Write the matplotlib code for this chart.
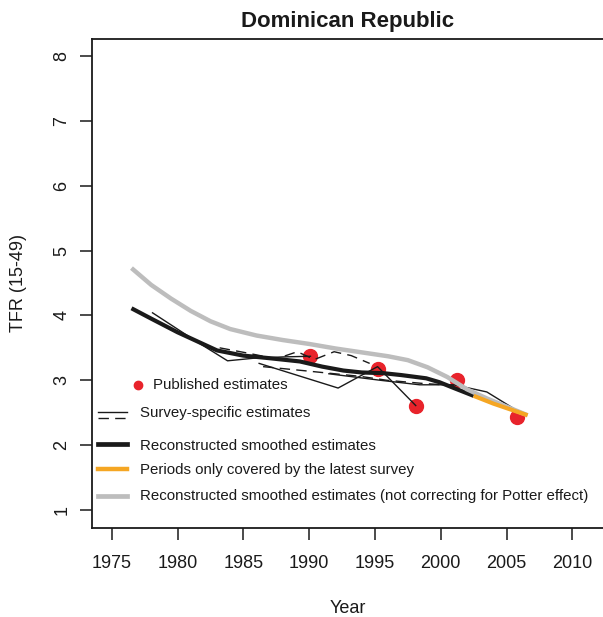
import matplotlib
matplotlib.use("Agg")
import matplotlib.pyplot as plt

plt.rcParams['font.family'] = ['Liberation Sans', 'DejaVu Sans']

# published point estimates
pub_years = [1990.1, 1995.2, 1998.1, 2001.2, 2005.8]
pub_tfr = [3.37, 3.18, 2.61, 3.00, 2.44]

# survey-specific estimates (thin lines), (years, tfr, linestyle)
surveys = [
    ([1978.1, 1981.5, 1983.8, 1985.8, 1988.0, 1990.1],
     [4.04, 3.59, 3.30, 3.34, 3.36, 3.37], '-'),
    ([1983.2, 1985.3, 1987.5, 1989.1, 1990.4, 1991.9, 1993.2, 1994.6],
     [3.50, 3.42, 3.33, 3.44, 3.32, 3.44, 3.38, 3.26], '--'),
    ([1986.2, 1992.2, 1995.2, 1998.1],
     [3.26, 2.88, 3.21, 2.61], '-'),
    ([1986.5, 1989.5, 1993.9, 1995.9, 1998.7, 2001.0],
     [3.21, 3.15, 3.06, 3.00, 2.95, 2.92], '--'),
    ([1991.5, 1995.4, 1998.4, 2001.0, 2002.6, 2003.5, 2006.3],
     [3.10, 3.00, 2.93, 2.93, 2.86, 2.82, 2.47], '-'),
]

# reconstructed smoothed estimates
smooth_years = [1976.5, 1978, 1980, 1981.5, 1983, 1985, 1987, 1989.3, 1991,
                1992.6, 1994, 1995.6, 1997, 1998.9, 1999.9, 2001, 2002.5]
smooth_tfr = [4.11, 3.95, 3.74, 3.60, 3.46, 3.38, 3.34, 3.29, 3.21,
              3.15, 3.12, 3.11, 3.08, 3.03, 2.97, 2.88, 2.76]

# periods only covered by the latest survey
latest_years = [2002.5, 2004, 2006.6]
latest_tfr = [2.76, 2.64, 2.46]

# not correcting for Potter effect
nopot_years = [1976.5, 1978, 1979.5, 1981, 1982.5, 1984, 1986, 1988, 1990, 1992,
               1994, 1996, 1997.5, 1999, 2000.5, 2002, 2003.5, 2006.6]
nopot_tfr = [4.73, 4.47, 4.26, 4.07, 3.91, 3.79, 3.69, 3.62, 3.56, 3.49,
             3.43, 3.37, 3.31, 3.20, 3.05, 2.86, 2.72, 2.46]

legend_labels = ['Published estimates', 'Survey-specific estimates',
                 'Reconstructed smoothed estimates',
                 'Periods only covered by the latest survey',
                 'Reconstructed smoothed estimates (not correcting for Potter effect)']

red = '#e8232b'
orange = '#f5a623'
grey = '#bdbdbd'
ink = '#1a1a1a'
dash = (7.5, 4.5)

fig = plt.figure(figsize=(6.03, 6.17), dpi=100)
ax = fig.add_axes([92/603, 89/617, 511/603, 489/617])

ax.plot(pub_years, pub_tfr, 'o', color=red, markersize=10, zorder=2)
for yrs, vals, ls in surveys:
    if ls == '--':
        ax.plot(yrs, vals, '--', color=ink, lw=1.0, dashes=dash, zorder=3)
    else:
        ax.plot(yrs, vals, '-', color=ink, lw=1.0, zorder=3)
ax.plot(smooth_years, smooth_tfr, color=ink, lw=3.0, zorder=4, solid_capstyle='butt')
ax.plot(nopot_years, nopot_tfr, color=grey, lw=3.2, zorder=5, solid_capstyle='butt')
ax.plot(latest_years, latest_tfr, color=orange, lw=3.0, zorder=6, solid_capstyle='butt')

ax.set_xlim(1973.5, 2012.33)
ax.set_ylim(0.722, 8.262)
ax.set_xticks(range(1975, 2011, 5))
ax.set_yticks(range(1, 9))
ax.tick_params(axis='both', length=8.6, width=1.1, labelsize=13, color=ink, labelcolor=ink)
ax.tick_params(axis='x', pad=11)
ax.tick_params(axis='y', pad=7)
for lab in ax.get_yticklabels():
    lab.set_rotation(90)
    lab.set_va('center')
for side in ['left', 'bottom', 'top']:
    ax.spines[side].set_linewidth(1.3)
    ax.spines[side].set_color(ink)
ax.spines['right'].set_visible(False)

ax.set_xlabel('Year', fontsize=13, labelpad=20, color=ink)
ax.set_ylabel('TFR (15-49)', fontsize=13, color=ink)
ax.yaxis.set_label_coords(-0.128, 0.5)
ax.set_title('Dominican Republic', fontsize=16, fontweight='bold', pad=9, color=ink)

# legend drawn by hand, in data coordinates
fs = 10.8
lx0, lx1, tx = 1973.98, 1976.14, 1977.15
ax.plot([1977.02], [2.93], 'o', color=red, markersize=6, clip_on=False)
ax.text(1978.12, 2.93, legend_labels[0], fontsize=fs, va='center', color=ink)
ax.plot([lx0, lx1], [2.51, 2.51], '-', color=ink, lw=1.0)
ax.plot([lx0, lx1], [2.42, 2.42], '--', color=ink, lw=1.0, dashes=dash)
ax.text(tx, 2.49, legend_labels[1], fontsize=fs, va='center', color=ink)
ax.plot([lx0, lx1], [2.02, 2.02], color=ink, lw=3.4)
ax.text(tx, 1.99, legend_labels[2], fontsize=fs, va='center', color=ink)
ax.plot([lx0, lx1], [1.63, 1.63], color=orange, lw=3.2)
ax.text(tx, 1.62, legend_labels[3], fontsize=fs, va='center', color=ink)
ax.plot([lx0, lx1], [1.22, 1.22], color=grey, lw=3.4)
ax.text(tx, 1.21, legend_labels[4], fontsize=fs, va='center', color=ink)

fig.savefig('out.png', dpi=100)
